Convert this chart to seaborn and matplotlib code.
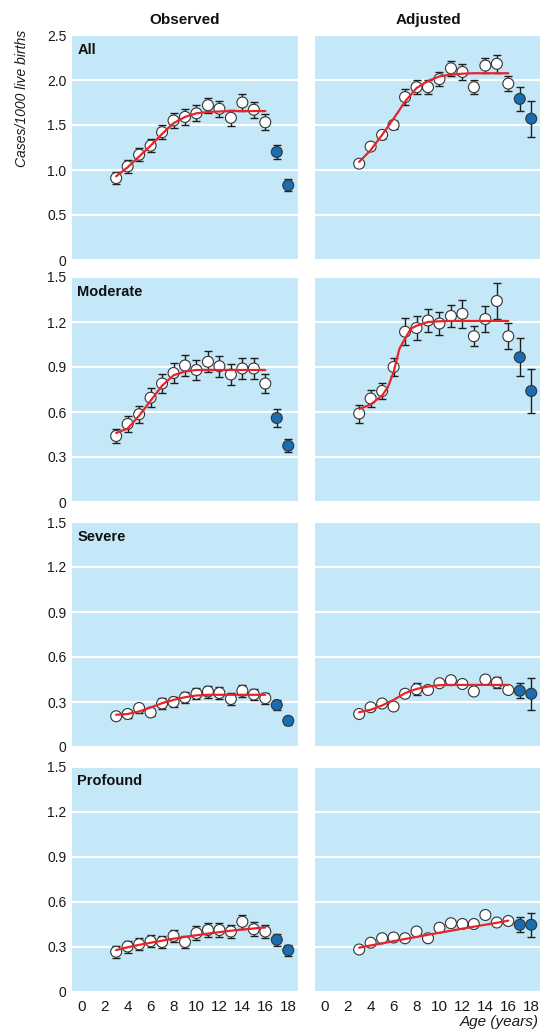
import numpy as np
import pandas as pd
import matplotlib
matplotlib.use("Agg")
import matplotlib.pyplot as plt
import seaborn as sns
from matplotlib import font_manager

# ---------------- data ----------------
ages = list(range(3, 19))
fit_ages = list(range(3, 17))
fit_ages_fine = [3, 4, 5, 5.5, 6, 6.5, 7, 7.5, 8, 9, 10, 11, 12, 13, 14, 15, 16]

obs_all = [0.91, 1.04, 1.17, 1.27, 1.42, 1.55, 1.59, 1.63, 1.72, 1.68, 1.58, 1.75, 1.67, 1.53, 1.20, 0.83]
obs_all_err = [0.065, 0.07, 0.075, 0.075, 0.08, 0.085, 0.085, 0.087, 0.085, 0.09, 0.09, 0.09, 0.09, 0.09, 0.08, 0.065]
obs_all_fit = [0.93, 1.03, 1.15, 1.27, 1.40, 1.52, 1.59, 1.63, 1.645, 1.65, 1.655, 1.655, 1.655, 1.655]

adj_all = [1.07, 1.26, 1.39, 1.50, 1.81, 1.92, 1.92, 2.01, 2.13, 2.09, 1.92, 2.16, 2.18, 1.96, 1.79, 1.57]
adj_all_err = [0.03, 0.03, 0.04, 0.04, 0.085, 0.08, 0.075, 0.08, 0.085, 0.085, 0.075, 0.085, 0.1, 0.085, 0.13, 0.2]
adj_all_fit = [1.09, 1.22, 1.39, 1.57, 1.76, 1.91, 1.99, 2.04, 2.06, 2.07, 2.075, 2.075, 2.075, 2.075]

obs_mod = [0.44, 0.52, 0.585, 0.695, 0.79, 0.86, 0.91, 0.88, 0.935, 0.905, 0.85, 0.89, 0.89, 0.79, 0.56, 0.375]
obs_mod_err = [0.047, 0.053, 0.058, 0.062, 0.062, 0.066, 0.067, 0.068, 0.071, 0.07, 0.068, 0.07, 0.07, 0.064, 0.057, 0.042]
obs_mod_fit = [0.46, 0.49, 0.575, 0.675, 0.775, 0.845, 0.87, 0.88, 0.88, 0.88, 0.88, 0.88, 0.88, 0.88]

adj_mod = [0.59, 0.69, 0.74, 0.90, 1.135, 1.16, 1.21, 1.19, 1.24, 1.255, 1.105, 1.22, 1.34, 1.105, 0.965, 0.74]
adj_mod_err = [0.06, 0.056, 0.053, 0.06, 0.09, 0.082, 0.076, 0.078, 0.076, 0.093, 0.068, 0.089, 0.117, 0.087, 0.126, 0.148]
adj_mod_fit = [0.62, 0.65, 0.71, 0.765, 0.865, 1.02, 1.09, 1.155, 1.175, 1.20, 1.205, 1.207, 1.207, 1.207, 1.207, 1.207, 1.207]

obs_sev = [0.205, 0.22, 0.26, 0.23, 0.29, 0.30, 0.33, 0.355, 0.37, 0.36, 0.32, 0.375, 0.35, 0.325, 0.28, 0.175]
obs_sev_err = [0.02, 0.025, 0.03, 0.025, 0.035, 0.035, 0.035, 0.037, 0.04, 0.04, 0.037, 0.04, 0.037, 0.035, 0.035, 0.025]
obs_sev_fit = [0.215, 0.22, 0.237, 0.263, 0.292, 0.314, 0.332, 0.343, 0.348, 0.348, 0.348, 0.348, 0.348, 0.348]

adj_sev = [0.22, 0.265, 0.29, 0.27, 0.355, 0.385, 0.38, 0.425, 0.445, 0.42, 0.37, 0.45, 0.43, 0.38, 0.375, 0.355]
adj_sev_err = [0.015, 0.015, 0.015, 0.015, 0.015, 0.04, 0.015, 0.015, 0.015, 0.02, 0.015, 0.015, 0.037, 0.015, 0.05, 0.107]
adj_sev_fit = [0.232, 0.248, 0.277, 0.314, 0.359, 0.387, 0.403, 0.412, 0.414, 0.414, 0.414, 0.414, 0.414, 0.414]

obs_pro = [0.265, 0.30, 0.315, 0.335, 0.33, 0.37, 0.33, 0.39, 0.41, 0.41, 0.40, 0.465, 0.415, 0.40, 0.345, 0.275]
obs_pro_err = [0.039, 0.04, 0.04, 0.04, 0.04, 0.042, 0.04, 0.045, 0.045, 0.045, 0.045, 0.048, 0.047, 0.045, 0.04, 0.035]
obs_pro_fit = [0.276, 0.295, 0.311, 0.325, 0.339, 0.352, 0.364, 0.375, 0.386, 0.396, 0.405, 0.413, 0.420, 0.427]

adj_pro = [0.28, 0.325, 0.355, 0.36, 0.355, 0.40, 0.355, 0.425, 0.455, 0.45, 0.45, 0.51, 0.46, 0.47, 0.445, 0.445]
adj_pro_err = [0.012, 0.012, 0.012, 0.012, 0.012, 0.012, 0.012, 0.012, 0.012, 0.012, 0.012, 0.012, 0.012, 0.02, 0.05, 0.08]
adj_pro_fit = [0.292, 0.307, 0.321, 0.336, 0.350, 0.364, 0.378, 0.392, 0.405, 0.419, 0.432, 0.445, 0.458, 0.472]

col_titles = ["Observed", "Adjusted"]
row_labels = ["All", "Moderate", "Severe", "Profound"]
yticks_all = [0, 0.5, 1.0, 1.5, 2.0, 2.5]
yticklabels_all = ["0", "0.5", "1.0", "1.5", "2.0", "2.5"]
yticks_sub = [0, 0.3, 0.6, 0.9, 1.2, 1.5]
yticklabels_sub = ["0", "0.3", "0.6", "0.9", "1.2", "1.5"]
xticks = list(range(0, 19, 2))
group = ["model"] * 14 + ["extra"] * 2

# ---------------- style ----------------
sns.set_theme(style="white")
names = {f.name for f in font_manager.fontManager.ttflist}
base = "Liberation Sans Narrow" if "Liberation Sans Narrow" in names else "Liberation Sans"
plt.rcParams["font.family"] = [base, "DejaVu Sans"]

BG = "#c5e8f8"
RED = "#e8232b"
BLUE = "#1a6db3"

fig = plt.figure(figsize=(5.4, 10.32), dpi=100)
lefts = [72 / 540, 315 / 540]
bottoms_px = [260, 502, 747, 991.5]
W = 226 / 540
H = 225 / 1032

panels = [
    [(obs_all, obs_all_err, fit_ages, obs_all_fit), (adj_all, adj_all_err, fit_ages, adj_all_fit)],
    [(obs_mod, obs_mod_err, fit_ages, obs_mod_fit), (adj_mod, adj_mod_err, fit_ages_fine, adj_mod_fit)],
    [(obs_sev, obs_sev_err, fit_ages, obs_sev_fit), (adj_sev, adj_sev_err, fit_ages, adj_sev_fit)],
    [(obs_pro, obs_pro_err, fit_ages, obs_pro_fit), (adj_pro, adj_pro_err, fit_ages, adj_pro_fit)],
]

for r in range(4):
    for c in range(2):
        ax = fig.add_axes([lefts[c], 1 - bottoms_px[r] / 1032, W, H])
        y, err, fx, fy = panels[r][c]
        df = pd.DataFrame({"age": ages, "rate": y, "err": err, "group": group})
        ax.set_facecolor(BG)
        ax.errorbar(df["age"], df["rate"], yerr=df["err"], fmt="none", ecolor="#1e1e1e",
                    elinewidth=1.0, capsize=2.6, capthick=1.0, zorder=2)
        sns.scatterplot(data=df, x="age", y="rate", hue="group",
                        palette={"model": "white", "extra": BLUE}, s=62,
                        edgecolor="#333333", linewidth=0.8, legend=False, ax=ax, zorder=3)
        fit_df = pd.DataFrame({"age": fx, "fit": fy})
        sns.lineplot(data=fit_df, x="age", y="fit", color=RED, lw=1.6, ax=ax,
                     estimator=None, zorder=4)
        ax.set_xlim(-0.85, 18.85)
        ax.set_xticks(xticks)
        if r == 0:
            ax.set_ylim(0, 2.5)
            ax.set_yticks(yticks_all)
            ax.set_yticklabels(yticklabels_all if c == 0 else [])
        else:
            ax.set_ylim(0, 1.5)
            ax.set_yticks(yticks_sub)
            ax.set_yticklabels(yticklabels_sub if c == 0 else [])
        if r == 3:
            ax.set_xticklabels([str(t) for t in xticks])
        else:
            ax.set_xticklabels([])
        ax.grid(axis="y", color="white", lw=1.5)
        ax.grid(axis="x", visible=False)
        ax.set_axisbelow(True)
        for s in ax.spines.values():
            s.set_visible(False)
        ax.tick_params(axis="x", direction="in", color="white", length=3, width=1,
                       labelsize=11, pad=6, labelcolor="#1a1a1a")
        ax.tick_params(axis="y", length=0, labelsize=10, pad=4, labelcolor="#1a1a1a")
        ax.set_xlabel("")
        ax.set_ylabel("")
        if c == 0:
            ax.text(0.024, 0.965, row_labels[r], transform=ax.transAxes, ha="left", va="top",
                    fontsize=10.5, fontweight="bold", color="#111111")

fig.text((72 + 113) / 540, 1 - 20 / 1032, col_titles[0], ha="center", va="center",
         fontsize=11, fontweight="bold", color="#111111")
fig.text((315 + 113) / 540, 1 - 20 / 1032, col_titles[1], ha="center", va="center",
         fontsize=11, fontweight="bold", color="#111111")
fig.text(22 / 540, 1 - 98 / 1032, "Cases/1000 live births", rotation=90, ha="center",
         va="center", fontsize=10, style="italic", color="#1a1a1a")
fig.text(539 / 540, 1 - 1022 / 1032, "Age (years)", ha="right", va="center",
         fontsize=11, style="italic", color="#1a1a1a")

fig.savefig("out.png", dpi=100, facecolor="white")
